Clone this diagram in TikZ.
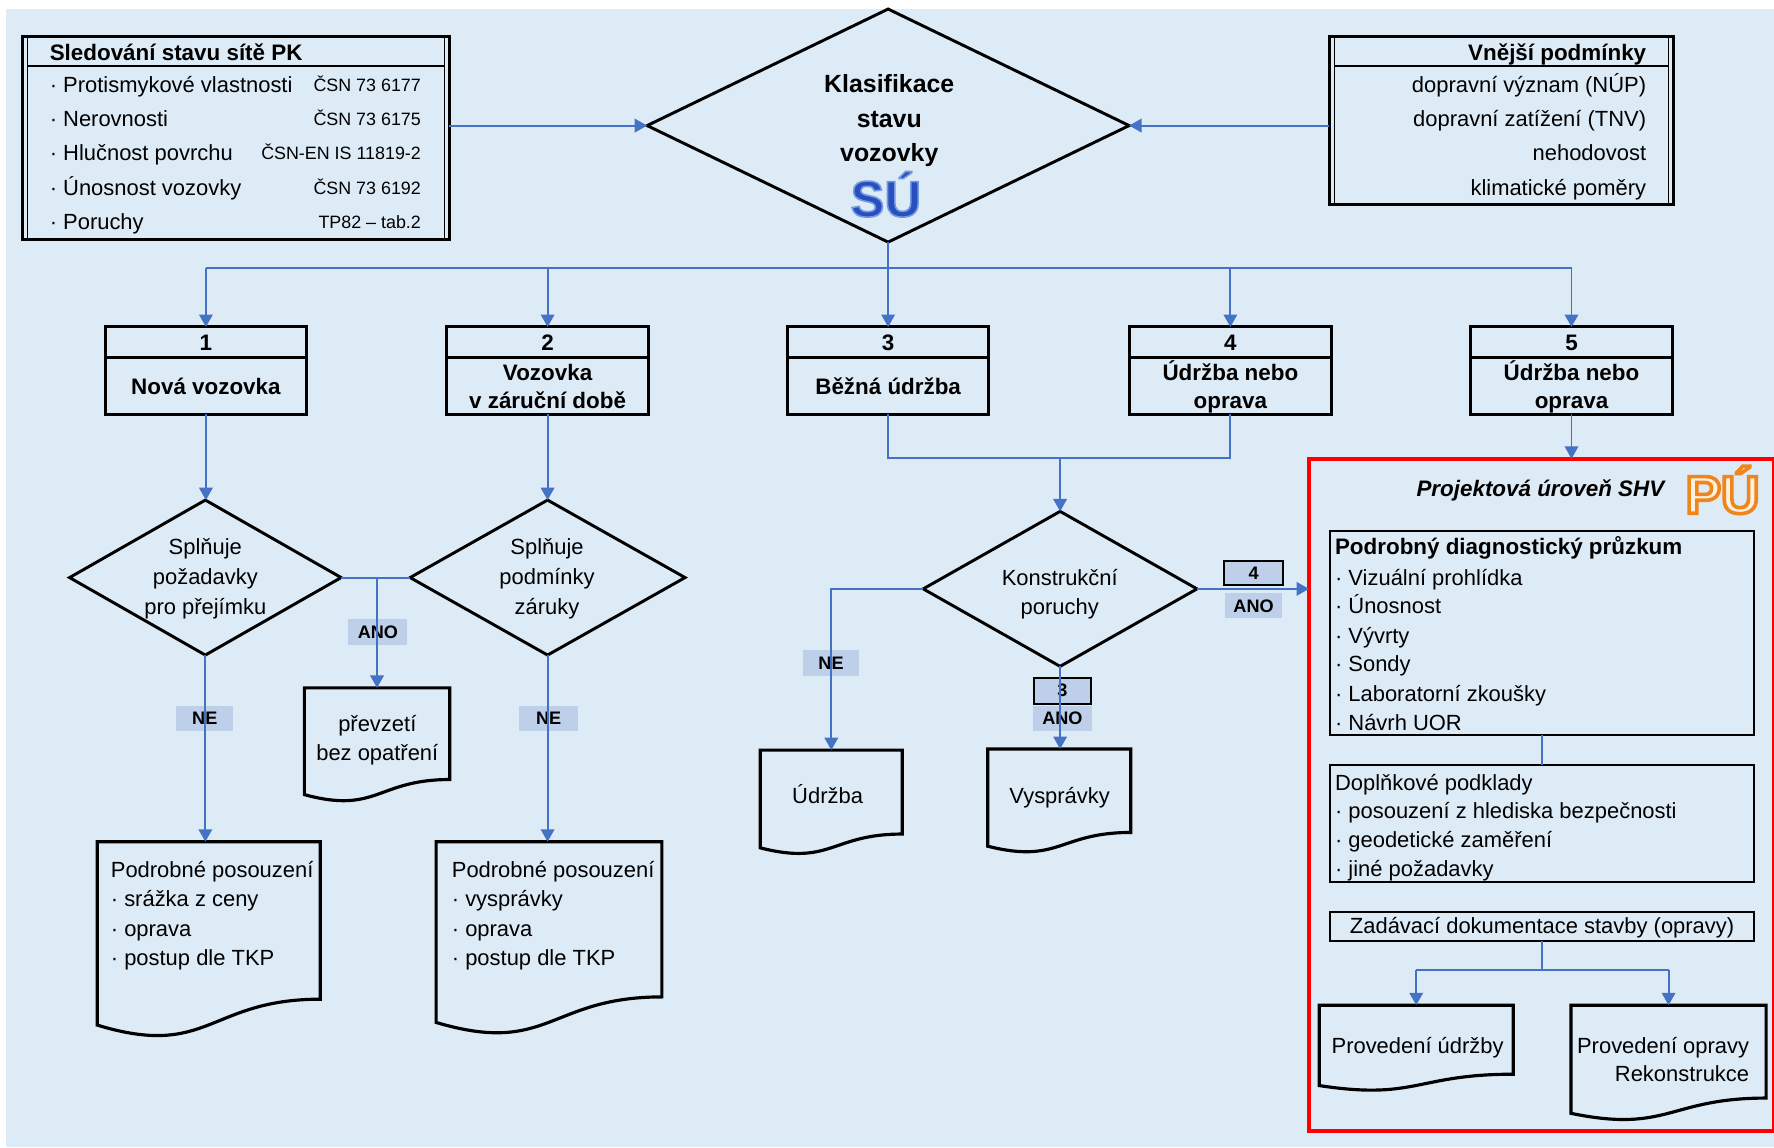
\documentclass[tikz,border=0pt]{standalone}
\usepackage{fontspec}
\setmainfont{Liberation Sans}
\usetikzlibrary{shapes.geometric,arrows.meta,calc}
\definecolor{bgc}{RGB}{221,235,247}
\definecolor{cblue}{RGB}{68,114,196}
\definecolor{lblfill}{RGB}{190,207,234}
\definecolor{redc}{RGB}{255,0,0}
\newcommand\fsn{\fontsize{19.4}{26}\selectfont}
\newcommand\fsb{\fontsize{19.8}{25.5}\selectfont\bfseries}
\newcommand\fss{\fontsize{15.8}{18}\selectfont}
\newcommand\fsl{\fontsize{16}{18}\selectfont\bfseries}
\newcommand\fsk{\fontsize{22}{30.5}\selectfont\bfseries}
\newcommand\fsSU{\fontsize{45}{45}\selectfont\bfseries}
\newcommand\fsPU{\fontsize{47}{47}\selectfont\bfseries}
\newcommand\outlinedPU{\special{pdf:literal direct 0.99 0.94 0.88 rg 0.95 0.52 0.1 RG 2 Tr 3.2 w}PÚ\special{pdf:literal direct 0 Tr 0 g 0 G 1 w}}
\newcommand\outlinedSU{\special{pdf:literal direct 0.16 0.31 0.74 rg 0.45 0.6 0.9 RG 2 Tr 1.4 w}SÚ\special{pdf:literal direct 0 Tr 0 g 0 G 1 w}}
\newcommand{\mydoc}[1]{\draw[docline] (#1.north west) -- (#1.north east) -- ($(#1.north east)!0.802!(#1.south east)$) .. controls ($(#1.north)!0.802!(#1.south)$) and ($(#1.north)!1.1075!(#1.south)$) .. ($(#1.north west)!0.934!(#1.south west)$) -- cycle;}
\tikzset{
 every node/.style={inner sep=0pt, outer sep=0pt},
 conn/.style={draw=cblue, line width=1.7pt, -{Triangle[length=11pt,width=12pt]}},
 cline/.style={draw=cblue, line width=1.7pt},
 boxn/.style={draw=black, line width=2.6pt, rectangle},
 infobox/.style={draw=black, line width=2.6pt, rectangle},
 thinbox/.style={draw=black, line width=1.8pt, rectangle},
 dia/.style={draw=black, line width=2.6pt, diamond},
 docarea/.style={rectangle, draw=none},
 docline/.style={draw=black, line width=2.8pt, line join=miter},
 lbl/.style={fill=lblfill, font=\fsl},
 lblbox/.style={fill=lblfill, draw=black, line width=1.5pt, font=\fsl},
 txt/.style={font=\fsn, yshift=-4.8pt},
 btxt/.style={font=\fsb, yshift=-4.8pt},
 stxt/.style={font=\fss, yshift=-4.3pt},
 ktxt/.style={font=\fsk, yshift=-4.8pt},
 sep/.style={draw=black, line width=1.8pt},
}
\begin{document}
\begin{tikzpicture}[x=1pt,y=-1pt]
\useasboundingbox (0,0) rectangle (1568,1014);
\fill[white] (0,0) rectangle (1568,1014);
\fill[bgc] (5,8) rectangle (1568,1014);

% ---------- info box A ----------
\node[infobox, minimum width=377pt, minimum height=180pt] (boxA) at (208.5,122) {};
\draw[line width=1pt] ($(boxA.north west)+(4.5,0)$) -- ($(boxA.south west)+(4.5,0)$);
\draw[line width=1pt] ($(boxA.north east)+(-4.5,0)$) -- ($(boxA.south east)+(-4.5,0)$);
\draw[sep] ($(boxA.north west)+(4.5,26.5)$) -- ($(boxA.north east)+(-4.5,26.5)$);
\node[btxt, anchor=mid west] (hA) at (44,46) {Sledování stavu sítě PK};
\node[txt, anchor=mid west] (a1) at (44,74) {· Protismykové vlastnosti};
\node[txt, anchor=mid west] (a2) at (44,104) {· Nerovnosti};
\node[txt, anchor=mid west] (a3) at (44,134) {· Hlučnost povrchu};
\node[txt, anchor=mid west] (a4) at (44,165) {· Únosnost vozovky};
\node[txt, anchor=mid west] (a5) at (44,195) {· Poruchy};
\node[stxt, anchor=mid east] (s1) at (372,74) {ČSN 73 6177};
\node[stxt, anchor=mid east] (s2) at (372,104) {ČSN 73 6175};
\node[stxt, anchor=mid east] (s3) at (372,134) {ČSN-EN IS 11819-2};
\node[stxt, anchor=mid east] (s4) at (372,165) {ČSN 73 6192};
\node[stxt, anchor=mid east] (s5) at (372,195) {TP82 – tab.2};

% ---------- info box B ----------
\node[infobox, minimum width=304.5pt, minimum height=148.5pt] (boxB) at (1327.25,106.25) {};
\draw[line width=1pt] ($(boxB.north west)+(4.5,0)$) -- ($(boxB.south west)+(4.5,0)$);
\draw[line width=1pt] ($(boxB.north east)+(-4.5,0)$) -- ($(boxB.south east)+(-4.5,0)$);
\draw[sep] ($(boxB.north west)+(4.5,26.5)$) -- ($(boxB.north east)+(-4.5,26.5)$);
\node[btxt, anchor=mid east] (hB) at (1455,46) {Vnější podmínky};
\node[txt, anchor=mid east] (v1) at (1455,74) {dopravní význam (NÚP)};
\node[txt, anchor=mid east] (v2) at (1455,104) {dopravní zatížení (TNV)};
\node[txt, anchor=mid east] (v3) at (1455,134) {nehodovost};
\node[txt, anchor=mid east] (v4) at (1455,165) {klimatické poměry};

% ---------- main diamond ----------
\node[dia, minimum width=426pt, minimum height=206pt] (dm) at (785,111) {};
\node[ktxt, anchor=mid] (k1) at (786,74.5) {Klasifikace};
\node[ktxt, anchor=mid] (k2) at (786,105) {stavu};
\node[ktxt, anchor=mid] (k3) at (786,135.5) {vozovky};
\node[font=\fsSU, anchor=base] (su) at (783,191.5) {\outlinedSU};

\draw[conn] (boxA.east |- dm.west) -- (dm.west);
\draw[conn] (boxB.west |- dm.east) -- (dm.east);

% ---------- level boxes ----------
\node[boxn, minimum width=178pt, minimum height=77pt] (b1) at (182,327.5) {};
\node[boxn, minimum width=178pt, minimum height=77pt] (b2) at (484,327.5) {};
\node[boxn, minimum width=178pt, minimum height=77pt] (b3) at (785,327.5) {};
\node[boxn, minimum width=178pt, minimum height=77pt] (b4) at (1087.5,327.5) {};
\node[boxn, minimum width=178pt, minimum height=77pt] (b5) at (1389,327.5) {};
\foreach \b in {b1,b2,b3,b4,b5}{\draw[line width=2.4pt] ($(\b.north west)+(0,27)$) -- ($(\b.north east)+(0,27)$);}
\node[btxt, anchor=mid] (b1n) at (182,302.5) {1};
\node[btxt, anchor=mid] (b2n) at (484,302.5) {2};
\node[btxt, anchor=mid] (b3n) at (785,302.5) {3};
\node[btxt, anchor=mid] (b4n) at (1087.5,302.5) {4};
\node[btxt, anchor=mid] (b5n) at (1389,302.5) {5};
\node[btxt, anchor=mid] (b1t) at (182,341) {Nová vozovka};
\node[btxt, anchor=mid] (b2t) at (484,328.5) {Vozovka};
\node[btxt, anchor=mid] (b2u) at (484,353.5) {v záruční době};
\node[btxt, anchor=mid] (b3t) at (785,341) {Běžná údržba};
\node[btxt, anchor=mid] (b4t) at (1087.5,328.5) {Údržba nebo};
\node[btxt, anchor=mid] (b4u) at (1087.5,353.5) {oprava};
\node[btxt, anchor=mid] (b5t) at (1389,328.5) {Údržba nebo};
\node[btxt, anchor=mid] (b5u) at (1389,353.5) {oprava};

\coordinate (bus) at (785,237);
\draw[cline] (dm.south) -- (bus);
\draw[cline] (b1.north |- bus) -- (b5.north |- bus);
\draw[conn] (b1.north |- bus) -- (b1.north);
\draw[conn] (b2.north |- bus) -- (b2.north);
\draw[conn] (bus) -- (b3.north);
\draw[conn] (b4.north |- bus) -- (b4.north);
\draw[conn] (b5.north |- bus) -- (b5.north);

% ---------- decision diamonds ----------
\node[dia, minimum width=240pt, minimum height=137pt] (d1) at (181.5,510.5) {};
\node[txt, anchor=mid] (d1a) at (181.5,483) {Splňuje};
\node[txt, anchor=mid] (d1b) at (181.5,509.5) {požadavky};
\node[txt, anchor=mid] (d1c) at (181.5,535.5) {pro přejímku};
\node[dia, minimum width=243pt, minimum height=137pt] (d2) at (484,510.5) {};
\node[txt, anchor=mid] (d2a) at (483.5,483) {Splňuje};
\node[txt, anchor=mid] (d2b) at (483.5,509.5) {podmínky};
\node[txt, anchor=mid] (d2c) at (483.5,535.5) {záruky};
\node[dia, minimum width=242pt, minimum height=137pt] (d3) at (937,520.5) {};
\node[txt, anchor=mid] (d3a) at (936.7,509.7) {Konstrukční};
\node[txt, anchor=mid] (d3b) at (936.7,536) {poruchy};

% ---------- documents ----------
\node[docarea, minimum width=128.5pt, minimum height=101pt] (prev) at (333.25,658.5) {};
\node[docarea, minimum width=197pt, minimum height=173.5pt] (pos1) at (184.5,830.75) {};
\node[docarea, minimum width=199.5pt, minimum height=171pt] (pos2) at (485.25,829.5) {};
\node[docarea, minimum width=125.5pt, minimum height=92.5pt] (udr) at (734.75,709.25) {};
\node[docarea, minimum width=126.5pt, minimum height=92pt] (vys) at (936.25,708) {};
\mydoc{prev}\mydoc{pos1}\mydoc{pos2}\mydoc{udr}\mydoc{vys}
\node[txt, anchor=mid] (pv1) at (333.5,639) {převzetí};
\node[txt, anchor=mid] (pv2) at (333.5,664.4) {bez opatření};
\node[txt, anchor=mid west] (p1a) at (98,768) {Podrobné posouzení};
\node[txt, anchor=mid west] (p1b) at (98,794) {· srážka z ceny};
\node[txt, anchor=mid west] (p1c) at (98,820) {· oprava};
\node[txt, anchor=mid west] (p1d) at (98,846) {· postup dle TKP};
\node[txt, anchor=mid west] (p2a) at (399.4,768) {Podrobné posouzení};
\node[txt, anchor=mid west] (p2b) at (399.4,794) {· vysprávky};
\node[txt, anchor=mid west] (p2c) at (399.4,820) {· oprava};
\node[txt, anchor=mid west] (p2d) at (399.4,846) {· postup dle TKP};
\node[txt, anchor=mid] (ut) at (731.5,703) {Údržba};
\node[txt, anchor=mid] (vt) at (936.6,703) {Vysprávky};

% ---------- red area ----------
\node[draw=redc, line width=3.5pt, minimum width=411pt, minimum height=594pt] (red) at (1362.5,702.5) {};
\node[btxt, font=\fsb\itshape, anchor=mid] (pt) at (1361.5,431.5) {Projektová úroveň SHV};
\node[font=\fsPU, anchor=base] (puc) at (1522.5,453.6) {\outlinedPU};

\node[thinbox, minimum width=374.8pt, minimum height=180.6pt] (pdp) at (1363,559.7) {};
\node[btxt, anchor=mid west] (q0) at (1180,483) {Podrobný diagnostický průzkum};
\node[txt, anchor=mid west] (q1) at (1180,509.7) {· Vizuální prohlídka};
\node[txt, anchor=mid west] (q2) at (1180,535) {· Únosnost};
\node[txt, anchor=mid west] (q3) at (1180,561) {· Vývrty};
\node[txt, anchor=mid west] (q4) at (1180,586.4) {· Sondy};
\node[txt, anchor=mid west] (q5) at (1180,613) {· Laboratorní zkoušky};
\node[txt, anchor=mid west] (q6) at (1180,638) {· Návrh UOR};

\node[thinbox, minimum width=374.8pt, minimum height=103.3pt] (dop) at (1363,727.65) {};
\node[txt, anchor=mid west] (r0) at (1180,691) {Doplňkové podklady};
\node[txt, anchor=mid west] (r1) at (1180,716) {· posouzení z hlediska bezpečnosti};
\node[txt, anchor=mid west] (r2) at (1180,742) {· geodetické zaměření};
\node[txt, anchor=mid west] (r3) at (1180,767) {· jiné požadavky};

\node[thinbox, minimum width=374.8pt, minimum height=26pt] (zad) at (1363,819) {};
\node[txt, anchor=mid] (zt) at (1363,818) {Zadávací dokumentace stavby (opravy)};

\node[docarea, minimum width=171.5pt, minimum height=76pt] (pu1) at (1251.75,926.5) {};
\node[docarea, minimum width=172.4pt, minimum height=102.3pt] (pu2) at (1474.8,939.65) {};
\mydoc{pu1}\mydoc{pu2}
\node[txt, anchor=mid] (pu1t) at (1253,923.6) {Provedení údržby};
\node[txt, anchor=mid east] (pu2a) at (1546,923.6) {Provedení opravy};
\node[txt, anchor=mid east] (pu2b) at (1546,948.6) {Rekonstrukce};

% ---------- labels ----------
\node[lbl, minimum width=50pt, minimum height=22pt] (ne1) at (181,635) {NE};
\node[lbl, minimum width=52pt, minimum height=22pt] (ne2) at (485,635) {NE};
\node[lbl, minimum width=52pt, minimum height=23pt] (ano1) at (334,558.5) {ANO};
\node[lbl, minimum width=50pt, minimum height=23pt] (ne3) at (734.5,586) {NE};
\node[lblbox, minimum width=50pt, minimum height=23pt] (l3) at (939,610.5) {3};
\node[lbl, minimum width=52pt, minimum height=22pt] (ano3) at (939,635) {ANO};
\node[lblbox, minimum width=52pt, minimum height=21pt] (l4) at (1108,506.5) {4};
\node[lbl, minimum width=50pt, minimum height=22pt] (ano4) at (1108,535.5) {ANO};

% ---------- connectors ----------
\draw[conn] (b1.south) -- (b1.south |- d1.north);
\draw[conn] (b2.south) -- (b2.south |- d2.north);
\draw[cline] (d1.east) -- (d2.west);
\draw[conn] (prev.north |- d1.east) -- (prev.north);
\draw[conn] (d1.south) -- (d1.south |- pos1.north);
\draw[conn] (d2.south) -- (d2.south |- pos2.north);

\coordinate (mg) at (937,404.5);
\draw[cline] (b3.south) -- (b3.south |- mg) -- (b4.south |- mg) -- (b4.south);
\draw[conn] (d3.north |- mg) -- (d3.north);
\draw[conn] (d3.west) -- (udr.north |- d3.west) -- (udr.north);
\draw[conn] (d3.south) -- (d3.south |- vys.north);
\draw[conn] (d3.east) -- (d3.east -| red.west);
\draw[conn] (b5.south) -- (b5.south |- red.north);

\draw[cline] (pdp.south) -- (dop.north);
\coordinate (bus2) at (1363,857.6);
\draw[cline] (zad.south) -- (bus2);
\draw[cline] (pu1.north |- bus2) -- (pu2.north |- bus2);
\draw[conn] (pu1.north |- bus2) -- (pu1.north);
\draw[conn] (pu2.north |- bus2) -- (pu2.north);
\end{tikzpicture}
\end{document}
